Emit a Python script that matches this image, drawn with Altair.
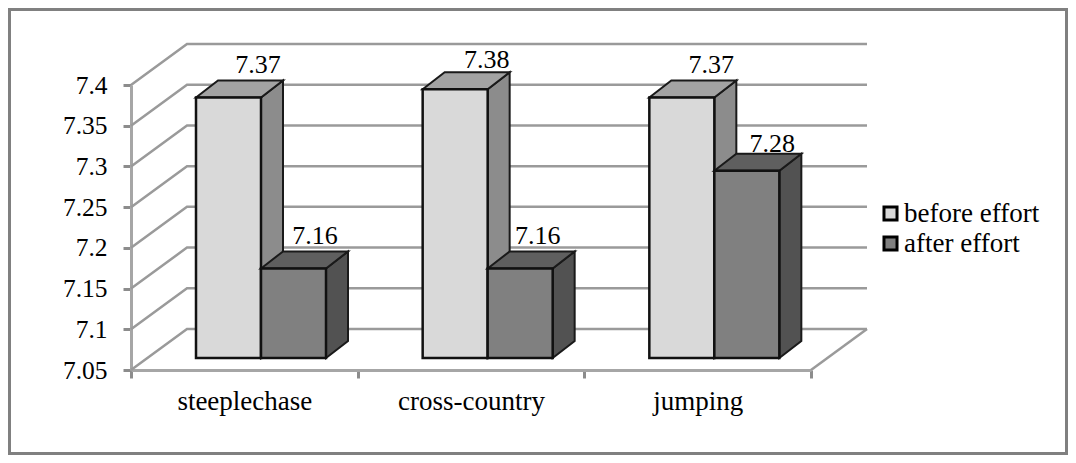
import altair as alt
import pandas as pd

categories = ["steeplechase", "cross-country", "jumping"]
series_names = ["before effort", "after effort"]
before_effort = [7.37, 7.38, 7.37]
after_effort = [7.16, 7.16, 7.28]
tick_values = [7.05, 7.1, 7.15, 7.2, 7.25, 7.3, 7.35, 7.4]

FONT = "Liberation Serif"
PX_CAT = 680 / 3
PX_VAL = 285 / 0.35
X0, Y0 = 131, 370

def ux(p):
    return p / PX_CAT

def uy(p):
    return p / PX_VAL

def fx(px):
    return (px - X0) / PX_CAT

def fy(py):
    return 7.05 + (Y0 - py) / PX_VAL

wall_dx, wall_dy = ux(56), uy(41)
bar_lift = uy(12)
bar_left = ux(65)
bar_w = ux(65)
depth_x, depth_y = ux(22), uy(17)

GRID = "#9a9a9a"
AXC = "#8c8c8c"

xq = alt.Scale(domain=[0, 3], nice=False, zero=False)
yq = alt.Scale(domain=[7.05, 7.4], nice=False, zero=False)
y_axis = alt.Axis(
    values=tick_values, format="~g", grid=False, title=None, labelFont=FONT,
    labelFontSize=25.5, labelColor="black", labelPadding=16, tickSize=8, tickWidth=3,
    tickColor=AXC, domainColor="#a6a6a6", domainWidth=3, labelOverlap=False,
    labelFlush=False)
X = lambda f="x": alt.X(f"{f}:Q", scale=xq, axis=None)
Y = lambda f="y": alt.Y(f"{f}:Q", scale=yq, axis=y_axis)

# gridlines on side wall and back wall
grid_rows = []
for v in tick_values:
    grid_rows += [
        {"id": f"{v}", "x": 0, "y": v},
        {"id": f"{v}", "x": wall_dx, "y": v + wall_dy},
        {"id": f"{v}", "x": 3 + wall_dx, "y": v + wall_dy},
    ]
grid_rows += [
    {"id": "floor", "x": 3, "y": 7.05},
    {"id": "floor", "x": 3 + wall_dx, "y": 7.05 + wall_dy},
]
grid = alt.Chart(pd.DataFrame(grid_rows)).mark_line(
    color=GRID, strokeWidth=2.5, interpolate="linear"
).encode(x=X(), y=Y(), detail="id:N", order="x:Q")

# band axis for the categories
cat_axis = alt.Chart(pd.DataFrame({"cat": categories, "y": [7.05] * 3})).mark_point(opacity=0).encode(
    x=alt.X("cat:N", sort=categories, title=None,
            scale=alt.Scale(domain=categories, paddingInner=0, paddingOuter=0),
            axis=alt.Axis(tickBand="extent", labelAngle=0, labelFont=FONT, labelFontSize=27,
                          labelColor="black", labelPadding=10, tickSize=8, tickWidth=3,
                          tickColor=AXC, domainColor="#a6a6a6", domainWidth=3, grid=False)),
    y=Y(),
)

color = alt.Color("series:N", scale=alt.Scale(domain=series_names, range=["#d9d9d9", "#808080"]),
                  legend=alt.Legend(orient="none", legendX=746, legendY=115, title=None,
                                    labelFont=FONT, labelFontSize=27, labelColor="black",
                                    symbolType="square", symbolSize=170, symbolStrokeColor="black",
                                    symbolStrokeWidth=3, symbolOpacity=1, rowPadding=2,
                                    labelOffset=0))

def bar_layers(vals, name, slot, c_top, c_side):
    side, top, front = [], [], []
    for i, v in enumerate(vals):
        xl = i + bar_left + slot * bar_w
        xr = xl + bar_w
        yb = 7.05 + bar_lift
        yt = v + bar_lift
        front.append({"series": name, "x": xl, "x2": xr, "y": yt, "y2": yb})
        side += [
            {"id": i, "s": 0, "x": xr, "y": yt},
            {"id": i, "s": 1, "x": xr + depth_x, "y": yt + depth_y},
            {"id": i, "s": 2, "x": xr + depth_x, "y": yb + depth_y},
            {"id": i, "s": 3, "x": xr, "y": yb},
        ]
        top += [
            {"id": i, "s": 0, "x": xl, "y": yt},
            {"id": i, "s": 1, "x": xl + depth_x, "y": yt + depth_y},
            {"id": i, "s": 2, "x": xr + depth_x, "y": yt + depth_y},
            {"id": i, "s": 3, "x": xr, "y": yt},
        ]
    out = []
    for rows, c in ((side, c_side), (top, c_top)):
        out.append(alt.Chart(pd.DataFrame(rows)).mark_line(
            fill=c, stroke="#1a1a1a", strokeWidth=2, strokeJoin="miter", interpolate="linear-closed"
        ).encode(x=X(), y=Y(), detail="id:N", order="s:Q"))
    out.append(alt.Chart(pd.DataFrame(front)).mark_rect(stroke="#111111", strokeWidth=2.5, opacity=1).encode(
        x=X(), x2="x2:Q", y=Y(), y2="y2:Q", color=color))
    return out

layers_bars = (bar_layers(before_effort, series_names[0], 0, "#a3a3a3", "#8c8c8c")
               + bar_layers(after_effort, series_names[1], 1, "#5f5f5f", "#525252"))

# value labels
label_shift_x = [[62, 64, 62], [54, 50, 58]]
label_gap_y = [[7, 4, 7], [7, 7, 2]]
label_rows = []
for slot, vals in enumerate([before_effort, after_effort]):
    for i, v in enumerate(vals):
        label_rows.append({
            "x": i + bar_left + slot * bar_w + ux(label_shift_x[slot][i]),
            "y": v + bar_lift + depth_y + uy(label_gap_y[slot][i]),
            "t": f"{v:.2f}",
        })
labels = alt.Chart(pd.DataFrame(label_rows)).mark_text(
    font=FONT, fontSize=26, color="black", baseline="alphabetic", align="center"
).encode(x=X(), y=Y(), text="t:N")

# outer frame (svg spans page x 8..1068, y 8..455)
frame = alt.Chart(pd.DataFrame([{
    "x": fx(9.5), "x2": fx(1066.5), "y": fy(9.5), "y2": fy(453.5)
}])).mark_rect(filled=False, stroke="#808080", strokeWidth=3).encode(
    x=X(), x2="x2:Q", y=Y(), y2="y2:Q")

chart = alt.layer(
    frame, grid, cat_axis, *layers_bars, labels
).resolve_scale(x="independent").properties(
    width=680, height=285,
    padding={"left": 123, "top": 77, "right": 257, "bottom": 85},
    autosize=alt.AutoSizeParams(type="none"),
    background="white",
).configure_view(strokeWidth=0)

chart.save("out.html", embed_options={"renderer": "svg", "actions": False})
